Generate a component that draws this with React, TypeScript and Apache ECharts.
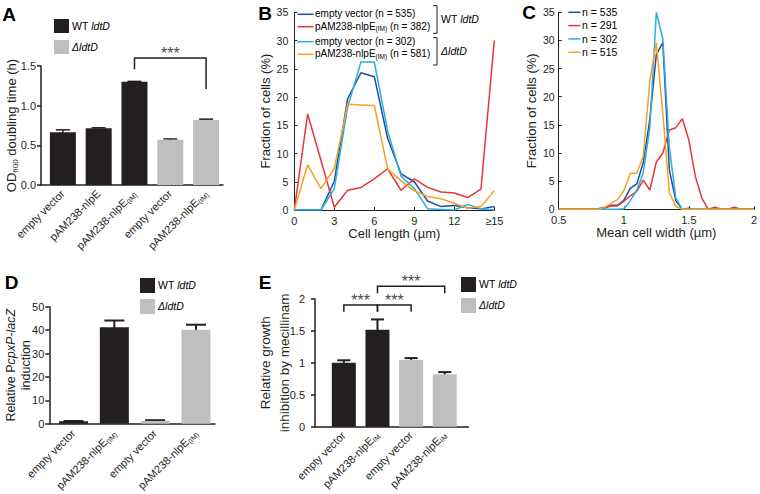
import React, { useEffect, useRef } from "react";
import * as echarts from "echarts";

const FONT = "'Liberation Sans', Arial, Helvetica, sans-serif";
const INK = "#231f20";
const DARK = "#231f20";
const LIGHT = "#bfbfbf";
const STAR = "#4d4d4d";
const C_BLUE = "#1f4f9c";
const C_RED = "#e6353b";
const C_CYAN = "#2aaee2";
const C_ORANGE = "#f5a226";

// ---------- Panel A ----------
const aCategories = ["empty vector", "pAM238-nlpE", "pAM238-nlpE_(IM)", "empty vector", "pAM238-nlpE_(IM)"];
const aValues = [0.665, 0.715, 1.3, 0.57, 0.82];
const aErrors = [0.03, 0.006, 0.006, 0.01, 0.01];
const aStrain = [0, 0, 0, 1, 1];
const aSignif = [[2, 4, 1.6, 1.46, 1.21, 1.66]];

// ---------- Panel B ----------
const bLengths = [0, 1, 2, 3, 4, 5, 6, 7, 8, 9, 10, 11, 12, 13, 14, 15];
const bTickLabels = ["0", "3", "6", "9", "12", "≥15"];
const bEmptyWT = [0, 0, 0, 5.1, 19.7, 24.3, 23.6, 12.7, 6.4, 5.0, 1.6, 0.6, 0.8, 0.4, 0.2, 0.6];
const bNlpeWT = [0, 17.0, 8.8, 0.5, 3.5, 4.0, 5.5, 7.3, 3.5, 5.5, 4.0, 3.2, 3.0, 2.2, 3.7, 30.0];
const bEmptyD = [0, 0, 0, 3.8, 18.2, 26.2, 26.2, 14.0, 6.0, 3.8, 0.2, 0.1, 0, 1.0, 0.2, 0];
const bNlpeD = [0, 8.0, 3.8, 7.3, 18.7, 18.6, 18.5, 7.3, 5.2, 3.4, 2.4, 2.0, 1.2, 0.3, 0.6, 3.4];
const bLegend = [
  "empty vector (n = 535)",
  "pAM238-nlpE_(IM)_ (n = 382)",
  "empty vector (n = 302)",
  "pAM238-nlpE_(IM)_ (n = 581)",
];

// ---------- Panel C ----------
const cWidths = [0.5, 0.55, 0.6, 0.65, 0.7, 0.75, 0.8, 0.85, 0.9, 0.95, 1.0, 1.05, 1.1, 1.15, 1.2, 1.25, 1.3, 1.35, 1.4, 1.45, 1.5, 1.55, 1.6, 1.65, 1.7, 1.75, 1.8, 1.85, 1.9, 1.95, 2.0];
const cBlue = [0, 0, 0, 0, 0, 0, 0.1, 0.3, 0.7, 0.7, 1.6, 3.7, 4.5, 8.3, 16.0, 27.5, 29.6, 7.0, 1.5, 0, 0.2, 0, 0, 0, 0, 0, 0, 0, 0, 0, 0];
const cRed = [0, 0, 0, 0, 0, 0, 0, 0.2, 0.6, 0.6, 1.4, 2.4, 3.2, 5.2, 3.4, 8.4, 10.0, 14.1, 14.5, 16.1, 12.3, 5.8, 2.0, 0, 0.35, 0, 0, 0.35, 0, 0, 0];
const cCyan = [0, 0, 0, 0, 0, 0, 0, 0, 0, 0, 0.1, 1.5, 3.4, 6.5, 14.5, 35.0, 30.3, 11.0, 2.0, 0, 0, 0, 0, 0, 0, 0, 0, 0, 0, 0, 0];
const cOrange = [0, 0, 0, 0, 0, 0, 0, 0.3, 1.0, 1.7, 3.3, 6.4, 6.4, 9.5, 22.8, 29.6, 17.0, 3.0, 0.5, 0, 0, 0, 0, 0, 0, 0, 0, 0, 0, 0, 0];
const cLegend = ["n = 535", "n = 291", "n = 302", "n = 515"];

// ---------- Panel D ----------
const dCategories = ["empty vector", "pAM238-nlpE_(IM)", "empty vector", "pAM238-nlpE_(IM)"];
const dValues = [1.0, 41.2, 1.2, 40.1];
const dErrors = [0.15, 2.9, 0.3, 2.2];
const dStrain = [0, 0, 1, 1];

// ---------- Panel E ----------
const eCategories = ["empty vector", "pAM238-nlpE_IM", "empty vector", "pAM238-nlpE_IM"];
const eValues = [1.0, 1.52, 1.05, 0.82];
const eErrors = [0.04, 0.16, 0.025, 0.035];
const eStrain = [0, 0, 1, 1];
const eSignif = [
  [0, 1, 1.906, 1.8, 1.8, 1.98],
  [1, 2, 1.906, 1.8, 1.8, 1.98],
  [1, 3, 2.2, 2.09, 2.09, 2.28],
];

function toRich(s: string, base = "t", alt = "s") {
  return s
    .split("_")
    .map((p, i) => (p ? `{${i % 2 ? alt : base}|${p}}` : ""))
    .join("");
}

function labelRich(size: number, sub: number, lh?: number) {
  const line = lh ?? size + 1;
  return {
    t: { fontSize: size, fontFamily: FONT, color: INK, lineHeight: line, verticalAlign: "top" },
    i: { fontSize: size, fontFamily: FONT, color: INK, lineHeight: line, verticalAlign: "top", fontStyle: "italic" },
    s: {
      fontSize: sub,
      fontFamily: FONT,
      color: INK,
      lineHeight: sub,
      padding: [Math.round(size * 0.6), 0, 0, 0],
      verticalAlign: "bottom",
    },
  };
}

function barXAxis(grid: number, min: number, max: number, cats: string[], margin: number) {
  return {
    type: "value",
    gridIndex: grid,
    min,
    max,
    axisLine: { show: true, onZero: false, lineStyle: { color: INK, width: 1.5 } },
    axisTick: { show: false },
    splitLine: { show: false },
    axisLabel: {
      customValues: cats.map((_, i) => i),
      formatter: (v: number) => toRich(cats[Math.round(v)]),
      rotate: 45,
      margin,
      rich: labelRich(11, 7),
    },
  };
}

function barYAxis(grid: number, max: number, interval: number, fmt: (v: number) => string, margin: number, name: string, nameGap: number, nameTextStyle: any) {
  return {
    type: "value",
    gridIndex: grid,
    min: 0,
    max,
    interval,
    axisLine: { show: true, onZero: false, lineStyle: { color: INK, width: 1.5 } },
    axisTick: { show: true, length: 4, lineStyle: { color: INK, width: 1.5 } },
    splitLine: { show: false },
    axisLabel: { formatter: fmt, fontSize: 11, color: INK, fontFamily: FONT, margin },
    name,
    nameLocation: "middle",
    nameRotate: 90,
    nameGap,
    nameMoveOverlap: false,
    nameTextStyle,
  };
}

function lineXAxis(grid: number, min: number, max: number, interval: number, fmt: (v: number) => string, name: string) {
  return {
    type: "value",
    gridIndex: grid,
    min,
    max,
    interval,
    axisLine: { show: true, onZero: false, lineStyle: { color: INK, width: 1 } },
    axisTick: { show: true, inside: true, length: 3, lineStyle: { color: INK } },
    splitLine: { show: false },
    axisLabel: { formatter: fmt, fontSize: 11, lineHeight: 10, color: INK, fontFamily: FONT, margin: 6 },
    name,
    nameLocation: "middle",
    nameGap: 17,
    nameMoveOverlap: false,
    nameTextStyle: { fontSize: 13, lineHeight: 13, color: INK, fontFamily: FONT },
  };
}

function lineYAxis(grid: number, margin: number, nameGap: number) {
  return {
    type: "value",
    gridIndex: grid,
    min: 0,
    max: 35,
    interval: 5,
    axisLine: { show: true, onZero: false, lineStyle: { color: INK, width: 1 } },
    axisTick: { show: true, inside: true, length: 3, lineStyle: { color: INK } },
    splitLine: { show: false },
    axisLabel: { fontSize: 10.5, lineHeight: 10, color: INK, fontFamily: FONT, margin },
    name: "Fraction of cells (%)",
    nameLocation: "middle",
    nameRotate: 90,
    nameGap,
    nameMoveOverlap: false,
    nameTextStyle: { fontSize: 13, color: INK, fontFamily: FONT, lineHeight: 15 },
  };
}

function barSeries(idx: number, values: number[], strain: number[], width: number) {
  return {
    type: "bar",
    xAxisIndex: idx,
    yAxisIndex: idx,
    barWidth: width,
    data: values.map((v, i) => ({ value: [i, v], itemStyle: { color: strain[i] ? LIGHT : DARK } })),
  };
}

function errorSeries(idx: number, values: number[], errors: number[], cap: number, lw: number) {
  return {
    type: "custom",
    xAxisIndex: idx,
    yAxisIndex: idx,
    data: values.map((v, i) => [i, v, errors[i]]),
    encode: { x: 0, y: 1 },
    renderItem: (_p: any, api: any) => {
      const x = api.value(0);
      const v = api.value(1);
      const e = api.value(2);
      const top = api.coord([x, v + e]);
      const bot = api.coord([x, v - e]);
      const hw = cap / 2;
      return {
        type: "group",
        children: [
          { type: "line", shape: { x1: top[0], y1: top[1], x2: bot[0], y2: bot[1] }, style: { stroke: INK, lineWidth: lw } },
          { type: "line", shape: { x1: top[0] - hw, y1: top[1], x2: top[0] + hw, y2: top[1] }, style: { stroke: INK, lineWidth: lw } },
        ],
      };
    },
  };
}

function signifSeries(idx: number, brackets: number[][]) {
  return {
    type: "custom",
    xAxisIndex: idx,
    yAxisIndex: idx,
    data: brackets,
    encode: { x: 0, y: 2 },
    clip: false,
    renderItem: (_p: any, api: any) => {
      const x1 = api.value(0);
      const x2 = api.value(1);
      const y = api.value(2);
      const pl = api.coord([x1, y]);
      const pr = api.coord([x2, y]);
      const pl2 = api.coord([x1, api.value(3)]);
      const pr2 = api.coord([x2, api.value(4)]);
      const ps = api.coord([(x1 + x2) / 2, api.value(5)]);
      return {
        type: "group",
        children: [
          { type: "polyline", shape: { points: [pl2, pl, pr, pr2] }, style: { stroke: INK, lineWidth: 1.5, fill: "none" } },
          {
            type: "text",
            x: ps[0],
            y: ps[1],
            style: { text: "***", fontSize: 16, fill: STAR, align: "center", verticalAlign: "middle", fontFamily: FONT },
          },
        ],
      };
    },
  };
}

function lineSeries(idx: number, xs: number[], ys: number[], color: string) {
  return {
    type: "line",
    xAxisIndex: idx,
    yAxisIndex: idx,
    data: xs.map((x, i) => [x, ys[i]]),
    symbol: "none",
    lineStyle: { color, width: 1.5 },
    itemStyle: { color },
  };
}

const barLegendRich = labelRich(10.5, 7);
const bLegendRich = labelRich(10, 6.5);
const cLegendRich = labelRich(10.5, 7);

function panelLetter(text: string, x: number, y: number) {
  return {
    type: "text",
    x,
    y,
    z: 100,
    style: { text, fontSize: 19, fontWeight: "bold", fontFamily: FONT, fill: "#000", align: "center", verticalAlign: "middle" },
  };
}

function barLegend(x: number, y1: number, y2: number, w: number, h: number, tx: number) {
  return [
    { type: "rect", z: 100, shape: { x, y: y1, width: w, height: h }, style: { fill: DARK } },
    { type: "rect", z: 100, shape: { x, y: y2, width: w, height: h }, style: { fill: LIGHT } },
    { type: "text", z: 100, x: tx, y: y1 + h / 2, style: { text: "{t|WT }{i|ldtD}", rich: barLegendRich, verticalAlign: "middle" } },
    { type: "text", z: 100, x: tx, y: y2 + h / 2, style: { text: "{i|ΔldtD}", rich: barLegendRich, verticalAlign: "middle" } },
  ];
}

function lineLegend(x1: number, x2: number, tx: number, ys: number[], colors: string[], labels: string[], rich: any) {
  const out: any[] = [];
  ys.forEach((y, i) => {
    out.push({ type: "line", z: 100, shape: { x1, y1: y, x2, y2: y }, style: { stroke: colors[i], lineWidth: 1.5 } });
    out.push({ type: "text", z: 100, x: tx, y, style: { text: toRich(labels[i]), rich, verticalAlign: "middle" } });
  });
  return out;
}

function bracketRight(x: number, yTop: number, yBot: number, tick: number) {
  return {
    type: "polyline",
    z: 100,
    shape: { points: [[x - tick, yTop], [x, yTop], [x, yBot], [x - tick, yBot]] },
    style: { stroke: INK, lineWidth: 1, fill: "none" },
  };
}

function buildOption() {
  const lineColors = [C_BLUE, C_RED, C_CYAN, C_ORANGE];
  return {
    animation: false,
    backgroundColor: "#ffffff",
    textStyle: { fontFamily: FONT, color: INK },
    grid: [
      { left: 41, top: 66, width: 182, height: 119 },
      { left: 294.3, top: 12.3, width: 200, height: 197.7 },
      { left: 558.7, top: 12.3, width: 198, height: 197 },
      { left: 49.3, top: 306.7, width: 165.7, height: 121.6 },
      { left: 315, top: 299, width: 153.3, height: 127.7 },
    ],
    xAxis: [
      barXAxis(0, -0.611, 4.472, aCategories, 7),
      lineXAxis(1, 0, 15, 3, (v: number) => bTickLabels[Math.round(v / 3)], "Cell length (µm)"),
      lineXAxis(2, 0.5, 2, 0.5, (v: number) => String(v), "Mean cell width (µm)"),
      barXAxis(3, -0.593, 3.466, dCategories, 8),
      barXAxis(4, -0.857, 3.7, eCategories, 7),
    ],
    yAxis: [
      barYAxis(0, 1.5, 0.5, (v: number) => v.toFixed(1), 5, "{t|OD}{s|600}{t| doubling time (h)}", 22, {
        rich: labelRich(13, 8, 14),
      }),
      lineYAxis(1, 6, 21),
      lineYAxis(2, 4, 20),
      barYAxis(3, 50, 10, (v: number) => String(v), 5, "{t|Relative P}{i|cpxP-lacZ}\n{t|induction}", 16, {
        rich: {
          t: { fontSize: 12.5, fontFamily: FONT, color: INK, lineHeight: 15 },
          i: { fontSize: 12.5, fontFamily: FONT, color: INK, lineHeight: 15, fontStyle: "italic" },
        },
      }),
      barYAxis(4, 2, 0.5, (v: number) => String(v), 10, "Relative growth\ninhibition by mecillinam", 21, {
        fontSize: 13.5,
        lineHeight: 19,
        color: INK,
        fontFamily: FONT,
      }),
    ],
    series: [
      barSeries(0, aValues, aStrain, 26),
      errorSeries(0, aValues, aErrors, 14, 1.5),
      signifSeries(0, aSignif),
      lineSeries(1, bLengths, bEmptyWT, C_BLUE),
      lineSeries(1, bLengths, bNlpeWT, C_RED),
      lineSeries(1, bLengths, bEmptyD, C_CYAN),
      lineSeries(1, bLengths, bNlpeD, C_ORANGE),
      lineSeries(2, cWidths, cBlue, C_BLUE),
      lineSeries(2, cWidths, cRed, C_RED),
      lineSeries(2, cWidths, cCyan, C_CYAN),
      lineSeries(2, cWidths, cOrange, C_ORANGE),
      barSeries(3, dValues, dStrain, 29),
      errorSeries(3, dValues, dErrors, 20, 2),
      barSeries(4, eValues, eStrain, 24),
      errorSeries(4, eValues, eErrors, 13, 2),
      signifSeries(4, eSignif),
    ],
    graphic: [
      panelLetter("A", 9, 14.5),
      panelLetter("B", 265, 13),
      panelLetter("C", 529, 12.5),
      panelLetter("D", 11.5, 282.5),
      panelLetter("E", 265, 282.5),
      ...barLegend(54, 19, 40, 15, 14, 72),
      ...barLegend(140, 278, 299, 15, 15, 158),
      ...barLegend(461, 277, 298, 15, 15, 479),
      ...lineLegend(297.5, 313.5, 315, [14.3, 26.7, 41.7, 54.3], lineColors, bLegend, bLegendRich),
      bracketRight(437, 5.7, 33.3, 4),
      bracketRight(437, 37.7, 65, 4),
      { type: "text", z: 100, x: 441, y: 19.5, style: { text: "{t|WT }{i|ldtD}", rich: barLegendRich, verticalAlign: "middle" } },
      { type: "text", z: 100, x: 441, y: 51.5, style: { text: "{i|ΔldtD}", rich: barLegendRich, verticalAlign: "middle" } },
      ...lineLegend(568.3, 580.5, 582, [12.3, 25.6, 38.9, 52.2], lineColors, cLegend, cLegendRich),
    ],
  };
}

export default function App() {
  const ref = useRef<HTMLDivElement>(null);
  useEffect(() => {
    if (!ref.current) return;
    const chart = echarts.init(ref.current, null, { renderer: "svg" });
    chart.setOption(buildOption() as any);
    return () => chart.dispose();
  }, []);
  return (
    <div
      ref={ref}
      style={{ position: "fixed", left: 0, top: 0, width: 760, height: 494, background: "#fff" }}
    />
  );
}
